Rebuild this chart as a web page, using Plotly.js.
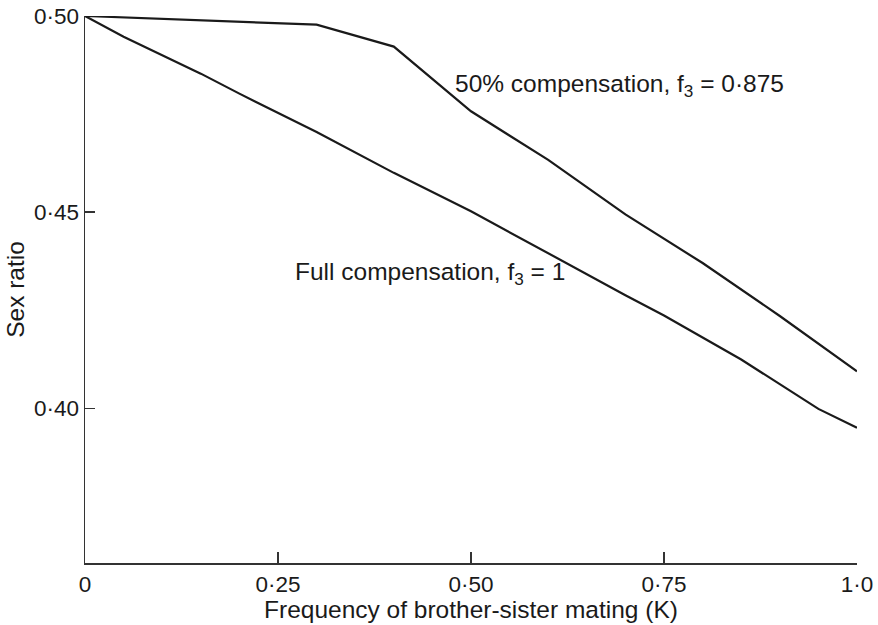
<!DOCTYPE html>
<html>
<head>
<meta charset="utf-8">
<script src="https://cdn.plot.ly/plotly-3.0.1.min.js"></script>
<style>html,body{margin:0;padding:0;background:#fff;}#chart{width:878px;height:625px;}</style>
</head>
<body>
<div id="chart"></div>
<script>
// Data
const kHalf = [0, 0.30, 0.40, 0.50, 0.60, 0.70, 0.80, 0.90, 1.00];
const srHalf = [0.500, 0.4978, 0.4922, 0.4757, 0.4633, 0.4494, 0.4370, 0.4235, 0.4094];
const kFull = [0, 0.05, 0.15, 0.20, 0.30, 0.40, 0.50, 0.60, 0.70, 0.75, 0.85, 0.95, 1.00];
const srFull = [0.500, 0.4947, 0.4853, 0.4802, 0.4704, 0.4600, 0.4502, 0.4394, 0.4288, 0.4236, 0.4124, 0.3998, 0.3950];
const xTickVals = [0, 0.25, 0.5, 0.75, 1.0];
const xTickText = ["0", "0·25", "0·50", "0·75", "1·0"];
const yTickVals = [0.40, 0.45, 0.50];
const yTickText = ["0·40", "0·45", "0·50"];
const labelHalf = "50% compensation, f<sub>3</sub> = 0·875";
const labelFull = "Full compensation, f<sub>3</sub> = 1";

const font = "Liberation Sans, Arial, sans-serif";
const ink = "#1a1a1a";
const traces = [
  {x: kHalf, y: srHalf, mode: "lines", line: {color: ink, width: 2.2}, hoverinfo: "skip"},
  {x: kFull, y: srFull, mode: "lines", line: {color: ink, width: 2.2}, hoverinfo: "skip"}
];
const layout = {
  width: 878, height: 625,
  margin: {l: 85, r: 21, t: 16, b: 62},
  showlegend: false,
  paper_bgcolor: "#fff", plot_bgcolor: "#fff",
  font: {family: font, size: 22.5, color: ink},
  xaxis: {
    range: [0, 1], showgrid: false, zeroline: false,
    showline: true, linecolor: "#333", linewidth: 1.5,
    ticks: "inside", ticklen: 11, tickwidth: 1.2, tickcolor: "#333",
    tickvals: xTickVals, ticktext: xTickText,
    tickfont: {family: font, size: 22.5, color: ink},
    title: {text: "Frequency of brother-sister mating (K)", font: {family: font, size: 24.5, color: ink}, standoff: 2}
  },
  yaxis: {
    range: [0.3605, 0.5], showgrid: false, zeroline: false,
    showline: true, linecolor: "#333", linewidth: 1.5,
    ticks: "inside", ticklen: 10, tickwidth: 1.2, tickcolor: "#333",
    tickvals: yTickVals, ticktext: yTickText,
    tickfont: {family: font, size: 22.5, color: ink},
    title: {text: "Sex ratio", font: {family: font, size: 24.5, color: ink}, standoff: 2}
  },
  annotations: [
    {x: 0.4767, y: 0.4823, xref: "x", yref: "y", text: labelHalf, showarrow: false, xanchor: "left", yanchor: "middle", font: {family: font, size: 24.5, color: ink}},
    {x: 0.2694, y: 0.4344, xref: "x", yref: "y", text: labelFull, showarrow: false, xanchor: "left", yanchor: "middle", font: {family: font, size: 24.5, color: ink}}
  ]
};
Plotly.newPlot("chart", traces, layout, {staticPlot: true, displayModeBar: false});
</script>
</body>
</html>
